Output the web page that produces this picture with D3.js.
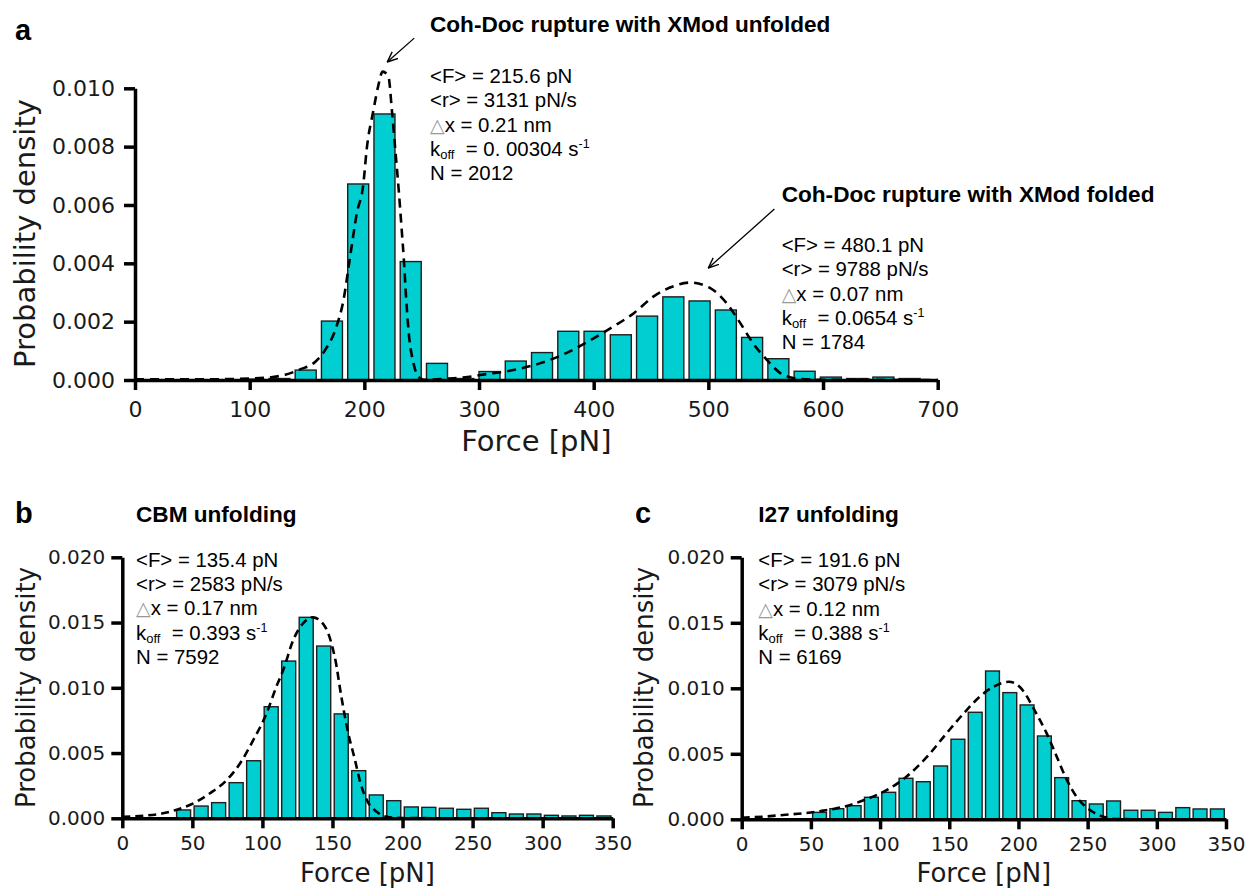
<!DOCTYPE html>
<html>
<head>
<meta charset="utf-8">
<script src="https://cdn.jsdelivr.net/npm/d3@7"></script>
<style>
  body { margin: 0; background: #fff; }
  text { white-space: pre; }
</style>
</head>
<body>
<div id="chart"></div>
<script>
// ---------------- data ----------------
// panel a: Coh-Doc rupture force histogram, 30 bins from 0 pN
const aBinWidth = 22.9;
const aDensity = [0, 0, 0, 0, 0.00003, 0.00005, 0.00034, 0.00202, 0.00672, 0.00912,
                  0.00406, 0.00057, 0.00005, 0.00029, 0.00065, 0.00094, 0.00167, 0.00167, 0.00155, 0.00219,
                  0.00285, 0.00271, 0.0024, 0.00146, 0.00073, 0.0003, 0.0001, 0.00005, 0.0001, 0.00005];
// dashed fit, [force, density]
const aFit = [[0, 0.00002], [50, 0.00002], [100, 0.00005], [120, 0.0001], [131, 0.00018], [145, 0.00038],
              [155.6, 0.00057], [165.8, 0.00103], [174.5, 0.0017], [181.8, 0.00274], [187.6, 0.00423],
              [193.4, 0.00571], [199.2, 0.00674], [202, 0.00789], [208, 0.00926], [212, 0.01006],
              [216, 0.01057], [221, 0.0104], [224, 0.00926], [227, 0.00789], [230, 0.0065], [232.6, 0.00514],
              [234.5, 0.0041], [236, 0.00309], [238.5, 0.0017], [242.9, 0.00057], [247, 0.00011], [252, 0.00001],
              [270, 0.00004], [290, 0.0001], [301, 0.00017], [330, 0.00034], [353, 0.00057], [377, 0.00094],
              [400, 0.00143], [417, 0.00183], [435, 0.00229], [452, 0.00286], [470, 0.00322], [484, 0.00334],
              [502, 0.00314], [516, 0.00263], [528, 0.00194], [539, 0.00126], [551, 0.00069], [563, 0.00023],
              [574, 0.00007], [592, 0.00001], [700, 0]];
const aXTicks = [0, 100, 200, 300, 400, 500, 600, 700];
const aYTicks = [0, 0.002, 0.004, 0.006, 0.008, 0.010];

// panel b: CBM unfolding, 28 bins of 12.5 pN
const bBinWidth = 12.5;
const bDensity = [0, 0, 0, 0.00064, 0.00094, 0.0012, 0.00273, 0.00441, 0.00855, 0.01205,
                  0.0154, 0.0132, 0.008, 0.00365, 0.00179, 0.00135, 0.00087, 0.00084, 0.00077, 0.00069,
                  0.00077, 0.00043, 0.00033, 0.00033, 0.00023, 0.00018, 0.00023, 0.00018];
const bFit = [[0, 0.00012], [15, 0.0002], [30, 0.0004], [40, 0.0007], [50.7, 0.00115], [62.6, 0.00192],
              [74.5, 0.00293], [84, 0.0042], [93.5, 0.006], [103, 0.00805], [110, 0.0101], [115, 0.0114],
              [122, 0.01366], [129, 0.01494], [136, 0.0154], [144.7, 0.01468], [150, 0.0131], [153, 0.0116],
              [155, 0.0102], [158, 0.0083], [161.3, 0.0065], [166, 0.0045], [170, 0.0027], [174.5, 0.0014],
              [181.6, 0.0005], [188.7, 0.00012], [200, 0.00002], [250, 0]];

// panel c: I27 unfolding, 28 bins of 12.5 pN
const cBinWidth = 12.5;
const cDensity = [0, 0, 0, 0, 0.00053, 0.00081, 0.00104, 0.00168, 0.00206, 0.00313,
                  0.00287, 0.00407, 0.00611, 0.00817, 0.01132, 0.00967, 0.00873, 0.00636, 0.00318, 0.00142,
                  0.00117, 0.0014, 0.00069, 0.00069, 0.00053, 0.00089, 0.00079, 0.00079];
const cFit = [[0, 0.00012], [15.5, 0.0002], [30, 0.00033], [44.5, 0.00046], [59, 0.00066], [76, 0.00102],
              [90, 0.00153], [105, 0.00224], [119, 0.00325], [134, 0.00478], [148, 0.00656], [162.6, 0.00834],
              [172, 0.00936], [182, 0.01012], [193, 0.0105], [201, 0.0101], [206, 0.0094], [210.7, 0.0085],
              [220.4, 0.00656], [227.7, 0.00478], [235, 0.003], [242, 0.00172], [251.7, 0.00071],
              [261.3, 0.0002], [271, 0.00002], [300, 0]];
const bcXTicks = [0, 50, 100, 150, 200, 250, 300, 350];
const bcYTicks = [0, 0.005, 0.010, 0.015, 0.020];

// fitted parameters shown next to each histogram
const statsUnfolded = { F: "215.6", r: "3131", dx: "0.21", koff: "0. 00304", N: "2012" };
const statsFolded   = { F: "480.1", r: "9788", dx: "0.07", koff: "0.0654", N: "1784" };
const statsCBM      = { F: "135.4", r: "2583", dx: "0.17", koff: "0.393", N: "7592" };
const statsI27      = { F: "191.6", r: "3079", dx: "0.12", koff: "0.388", N: "6169" };

// ---------------- drawing ----------------
const W = 1247, H = 891;
const MPL = "DejaVu Sans, sans-serif";
const ARIAL = "Liberation Sans, Arial, sans-serif";
const BAR_FILL = "#00CED1";

const svg = d3.select("#chart").append("svg")
    .attr("width", W)
    .attr("height", H)
    .style("background", "#fff");

svg.append("defs").append("marker")
    .attr("id", "arrowhead")
    .attr("viewBox", "0 -5 10 10")
    .attr("refX", 9.5)
    .attr("refY", 0)
    .attr("markerWidth", 11)
    .attr("markerHeight", 11)
    .attr("markerUnits", "userSpaceOnUse")
    .attr("orient", "auto")
  .append("path")
    .attr("d", "M0,-4L9.5,0L0,4")
    .attr("fill", "none")
    .attr("stroke", "#000")
    .attr("stroke-width", 1.3);

function styleAxis(g, fontSize) {
    // thick matplotlib-like spines and ticks
    g.select(".domain").attr("stroke", "#000").attr("stroke-width", 3.5);
    g.selectAll(".tick line").attr("stroke", "#000").attr("stroke-width", 3.5);
    g.selectAll(".tick text")
        .attr("fill", "#1a1a1a")
        .attr("font-family", MPL)
        .style("font-size", fontSize + "px");
}

function addXAxis(svg, x, y0, ticks, fontSize, padding) {
    const g = svg.append("g")
        .attr("transform", `translate(0,${y0})`)
        .call(d3.axisBottom(x).tickValues(ticks).tickSize(10).tickSizeOuter(0)
            .tickPadding(padding).tickFormat(d3.format("d")));
    styleAxis(g, fontSize);
}

function addYAxis(svg, y, x0, ticks, fontSize, padding, fmt) {
    const g = svg.append("g")
        .attr("transform", `translate(${x0},0)`)
        .call(d3.axisLeft(y).tickValues(ticks).tickSize(11).tickSizeOuter(0)
            .tickPadding(padding).tickFormat(d3.format(fmt)));
    styleAxis(g, fontSize);
}

function drawBars(svg, density, binWidth, x, y) {
    // histogram bars at 80% of the bin width, empty bins skipped
    const bins = density.map((d, i) => ({ i: i, v: d })).filter(d => d.v > 0);
    svg.append("g")
        .selectAll("rect")
        .data(bins)
        .enter()
        .append("rect")
        .attr("x", d => x(d.i * binWidth + binWidth * 0.1))
        .attr("width", x(binWidth * 0.8) - x(0))
        .attr("y", d => y(d.v))
        .attr("height", d => y(0) - y(d.v))
        .attr("fill", BAR_FILL)
        .attr("stroke", "#1e1e1e")
        .attr("stroke-width", 1.4);
}

function drawFit(svg, fit, x, y, dash) {
    svg.append("path")
        .datum(fit)
        .attr("fill", "none")
        .attr("stroke", "#000")
        .attr("stroke-width", 2.6)
        .attr("stroke-dasharray", dash)
        .attr("d", d3.line()
            .x(d => x(d[0]))
            .y(d => y(d[1]))
            .curve(d3.curveMonotoneX));
}

function addText(svg, x, y, text, size, bold, family) {
    return svg.append("text")
        .attr("x", x)
        .attr("y", y)
        .attr("font-family", family || ARIAL)
        .attr("font-weight", bold ? "bold" : "normal")
        .style("font-size", size + "px")
        .attr("fill", "#000")
        .text(text);
}

function addStats(svg, left, top, s) {
    // five lines of fitted parameters
    const lh = 24.3, fs = 20.4;
    addText(svg, left, top, `<F> = ${s.F} pN`, fs);
    addText(svg, left, top + lh, `<r> = ${s.r} pN/s`, fs);
    const t3 = addText(svg, left, top + 2 * lh, "", fs);
    t3.append("tspan").attr("fill", "#999").attr("font-family", MPL).style("font-size", "19px").text("\u25B3");
    t3.append("tspan").text(`x = ${s.dx} nm`);
    const t4 = addText(svg, left, top + 3 * lh, "k", fs);
    t4.append("tspan").attr("dy", 3.2).style("font-size", "13px").text("off");
    t4.append("tspan").attr("dy", -3.2).text(`  = ${s.koff} s`);
    t4.append("tspan").attr("dy", -8).style("font-size", "12.5px").text("-1");
    addText(svg, left, top + 4 * lh, `N = ${s.N}`, fs);
}

function addYLabel(svg, x, y, size) {
    svg.append("text")
        .attr("transform", `translate(${x},${y}) rotate(-90)`)
        .attr("text-anchor", "middle")
        .attr("font-family", MPL)
        .style("font-size", size + "px")
        .attr("fill", "#1a1a1a")
        .text("Probability density");
}

function addXLabel(svg, x, y, size) {
    svg.append("text")
        .attr("x", x)
        .attr("y", y)
        .attr("text-anchor", "middle")
        .attr("font-family", MPL)
        .style("font-size", size + "px")
        .attr("fill", "#1a1a1a")
        .text("Force [pN]");
}

function addArrow(svg, x1, y1, x2, y2) {
    svg.append("line")
        .attr("x1", x1).attr("y1", y1)
        .attr("x2", x2).attr("y2", y2)
        .attr("stroke", "#000")
        .attr("stroke-width", 1.3)
        .attr("marker-end", "url(#arrowhead)");
}

// ---- panel a ----
const xa = d3.scaleLinear().domain([0, 700]).range([135, 937.7]);
const ya = d3.scaleLinear().domain([0, 0.010]).range([380, 88.3]);
drawBars(svg, aDensity, aBinWidth, xa, ya);
drawFit(svg, aFit, xa, ya, "9,6");
addXAxis(svg, xa, ya(0), aXTicks, 22, 11);
addYAxis(svg, ya, xa(0), aYTicks, 22, 9, ".3f");
addYLabel(svg, 35, 233.5, 29);
addXLabel(svg, (xa(0) + xa(700)) / 2, 451, 29);
addText(svg, 15, 40, "a", 29, true);
addText(svg, 430, 31.7, "Coh-Doc rupture with XMod unfolded", 22.6, true);
addArrow(svg, xa(243.5), ya(0.01172), xa(220), ya(0.0109));
addStats(svg, 430, 83, statsUnfolded);
addText(svg, 781.7, 201.7, "Coh-Doc rupture with XMod folded", 22.6, true);
addArrow(svg, xa(557.6), ya(0.00586), xa(500), ya(0.00384));
addStats(svg, 781.7, 252, statsFolded);

// ---- panel b ----
const xb = d3.scaleLinear().domain([0, 350]).range([122.3, 612.7]);
const yb = d3.scaleLinear().domain([0, 0.020]).range([818.3, 557.3]);
drawBars(svg, bDensity, bBinWidth, xb, yb);
drawFit(svg, bFit, xb, yb, "8,5");
addXAxis(svg, xb, yb(0), bcXTicks, 20, 8);
addYAxis(svg, yb, xb(0), bcYTicks, 20, 6, ".3f");
addYLabel(svg, 35, 687.5, 26);
addXLabel(svg, (xb(0) + xb(350)) / 2, 881.7, 26);
addText(svg, 15, 523.3, "b", 29, true);
addText(svg, 136, 521.5, "CBM unfolding", 22.6, true);
addStats(svg, 136, 566.7, statsCBM);

// ---- panel c ----
const xc = d3.scaleLinear().domain([0, 350]).range([741.7, 1226]);
const yc = d3.scaleLinear().domain([0, 0.020]).range([819.3, 557.3]);
drawBars(svg, cDensity, cBinWidth, xc, yc);
drawFit(svg, cFit, xc, yc, "8,5");
addXAxis(svg, xc, yc(0), bcXTicks, 20, 8);
addYAxis(svg, yc, xc(0), bcYTicks, 20, 6, ".3f");
addYLabel(svg, 653.3, 687.5, 26);
addXLabel(svg, (xc(0) + xc(350)) / 2, 881.7, 26);
addText(svg, 635, 523.3, "c", 29, true);
addText(svg, 758.3, 521.5, "I27 unfolding", 22.6, true);
addStats(svg, 758.3, 567, statsI27);
</script>
</body>
</html>
